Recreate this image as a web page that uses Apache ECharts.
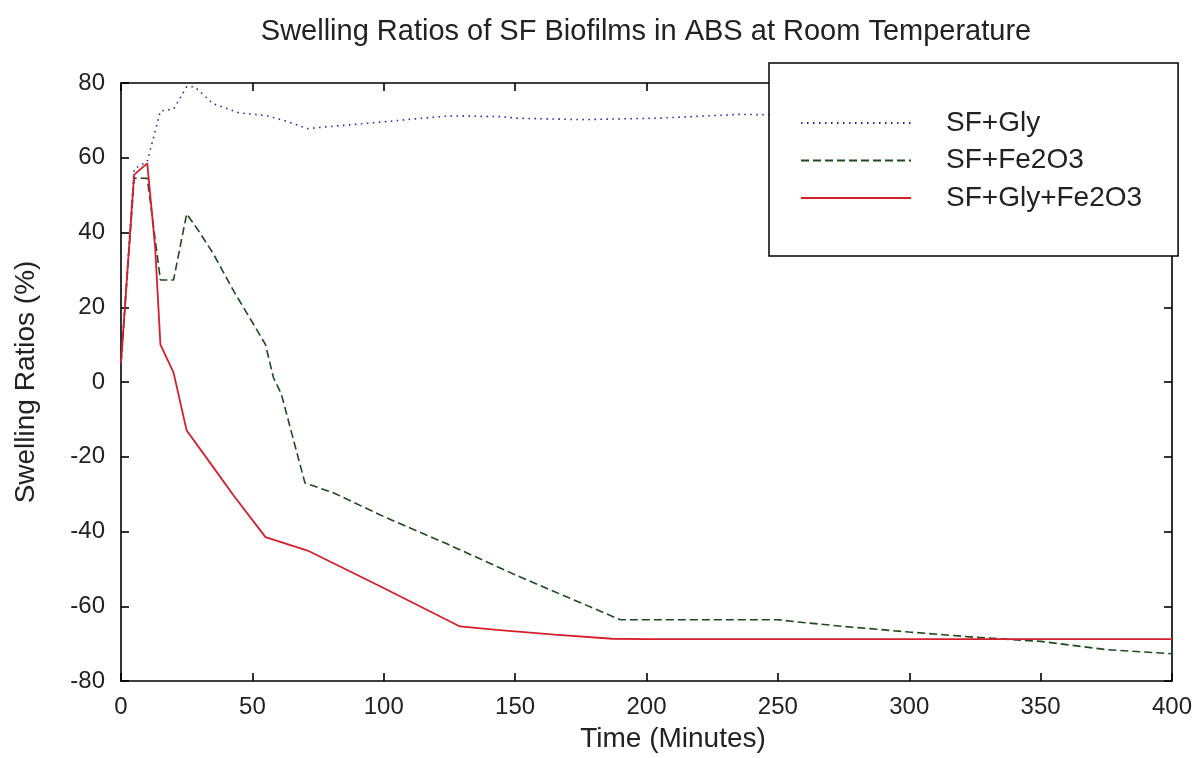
<!DOCTYPE html>
<html>
<head>
<meta charset="utf-8">
<script src="https://cdn.jsdelivr.net/npm/echarts@6/dist/echarts.min.js"></script>
<style>html,body{margin:0;padding:0;background:#fff;}#c{width:1199px;height:758px;}</style>
</head>
<body>
<div id="c"></div>
<script>
var titleText = 'Swelling Ratios of SF Biofilms in ABS at Room Temperature';
var seriesNames = ['SF+Gly', 'SF+Fe2O3', 'SF+Gly+Fe2O3'];
var xTicks = [0, 50, 100, 150, 200, 250, 300, 350, 400];
var yTicks = [-80, -60, -40, -20, 0, 20, 40, 60, 80];

var sfGly = [[0,5],[5,57],[10,59],[15,72.5],[20,73],[25,79],[28,79],[35,74.5],[45,72],[55,71.3],[62,70],[71,67.8],[85,68.7],[100,69.6],[110,70.3],[125,71.2],[145,71],[150,70.6],[175,70.2],[205,70.6],[235,71.6],[260,71.4],[300,71],[350,71],[400,71]];
var sfFe = [[0,5],[5,54.5],[10,54.5],[15,27.3],[20,27.3],[25,45],[29,41],[35,34.5],[43,24.2],[52,13.6],[55,10],[58,1.2],[61,-3.2],[70,-27],[81,-29.7],[100,-36],[124,-43.3],[152,-52.2],[190,-63.6],[250,-63.6],[256,-64.1],[275,-65.4],[300,-66.9],[325,-68.3],[350,-69.4],[375,-71.6],[400,-72.7]];
var sfGlyFe = [[0,5],[5,55.5],[10,58.5],[13,36],[15,10],[20,2.5],[25,-13],[34,-21.7],[43,-30.5],[55,-41.5],[71,-45.1],[99,-54.8],[129,-65.4],[143,-66.3],[165,-67.6],[187,-68.7],[200,-68.8],[300,-68.8],[400,-68.8]];

var chart = echarts.init(document.getElementById('c'));
var font = 'Liberation Sans, Arial, sans-serif';
var axisLine = {show: true, onZero: false, lineStyle: {color: '#000', width: 1.6}};
var axisTick = {show: true, inside: true, length: 8, lineStyle: {color: '#000', width: 1.6}};
chart.setOption({
  animation: false,
  backgroundColor: '#fff',
  title: {
    text: titleText, left: 641, top: 12, textAlign: 'center',
    textStyle: {fontFamily: font, fontSize: 29, fontWeight: 'normal', color: '#222'}
  },
  grid: {left: 121, top: 83, right: 27, bottom: 71, containLabel: false},
  legend: {
    orient: 'vertical', left: 769, top: 63,
    data: seriesNames,
    backgroundColor: '#fff', borderColor: '#000', borderWidth: 1.5, borderRadius: 0,
    padding: [46, 36, 44, 31],
    itemWidth: 110, itemHeight: 14, itemGap: 9.5,
    itemStyle: {opacity: 0},
    textStyle: {fontFamily: font, fontSize: 28, color: '#222', lineHeight: 28, padding: [0, 0, 0, 30]}
  },
  xAxis: [{
    type: 'value', min: 0, max: 400, interval: 50, position: 'bottom',
    axisLine: axisLine, axisTick: axisTick, splitLine: {show: false},
    axisLabel: {fontFamily: font, fontSize: 24, color: '#222', margin: 14,
      formatter: function (v) { return xTicks.indexOf(v) >= 0 ? String(v) : ''; }},
    name: 'Time (Minutes)', nameLocation: 'middle', nameGap: 44,
    nameTextStyle: {fontFamily: font, fontSize: 28, color: '#222', padding: [0, 0, 0, 53]}
  }, {
    type: 'value', min: 0, max: 400, interval: 50, position: 'top',
    axisLine: axisLine, axisTick: axisTick, splitLine: {show: false}, axisLabel: {show: false}
  }],
  yAxis: [{
    type: 'value', min: -80, max: 80, interval: 20, position: 'left',
    axisLine: axisLine, axisTick: axisTick, splitLine: {show: false},
    axisLabel: {fontFamily: font, fontSize: 24, color: '#222', margin: 16,
      formatter: function (v) { return yTicks.indexOf(v) >= 0 ? String(v) : ''; }},
    name: 'Swelling Ratios (%)', nameLocation: 'middle', nameGap: 81, nameRotate: 90,
    nameTextStyle: {fontFamily: font, fontSize: 28, color: '#222'}
  }, {
    type: 'value', min: -80, max: 80, interval: 20, position: 'right',
    axisLine: axisLine, axisTick: axisTick, splitLine: {show: false}, axisLabel: {show: false}
  }],
  series: [{
    name: seriesNames[0], type: 'line', data: sfGly, symbol: 'none', z: 3,
    lineStyle: {color: '#24249e', width: 1.6, type: [1.5, 4.5]}, itemStyle: {color: '#24249e'}
  }, {
    name: seriesNames[1], type: 'line', data: sfFe, symbol: 'none', z: 3,
    lineStyle: {color: '#1f4a1f', width: 1.6, type: [8, 4]}, itemStyle: {color: '#1f4a1f'}
  }, {
    name: seriesNames[2], type: 'line', data: sfGlyFe, symbol: 'none', z: 4,
    lineStyle: {color: '#d41f2c', width: 1.8}, itemStyle: {color: '#d41f2c'}
  }]
});
</script>
</body>
</html>
